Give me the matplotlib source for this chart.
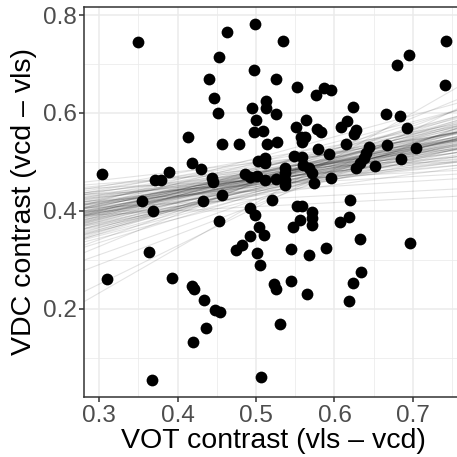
import matplotlib
matplotlib.use("Agg")
import matplotlib.pyplot as plt
from matplotlib.ticker import MultipleLocator

plt.rcParams['font.family'] = ['Liberation Sans', 'DejaVu Sans']

# speaker contrasts
vot = [0.303, 0.350, 0.463, 0.499, 0.453, 0.498, 0.440, 0.446, 0.452, 0.495,
       0.513, 0.513, 0.500, 0.497, 0.509, 0.413, 0.456, 0.478, 0.514, 0.418,
       0.430, 0.389, 0.371, 0.379, 0.444, 0.445, 0.486, 0.492, 0.501, 0.512,
       0.503, 0.512, 0.511, 0.456, 0.354, 0.433, 0.534, 0.742, 0.695, 0.680,
       0.741, 0.525, 0.552, 0.576, 0.587, 0.596, 0.526, 0.624, 0.666, 0.683,
       0.692, 0.564, 0.551, 0.578, 0.583, 0.609, 0.616, 0.627, 0.625, 0.557,
       0.563, 0.558, 0.527, 0.579, 0.615, 0.644, 0.667, 0.704, 0.593, 0.548,
       0.558, 0.560, 0.640, 0.638, 0.633, 0.627, 0.652, 0.685, 0.537, 0.537,
       0.567, 0.572, 0.574, 0.595, 0.525, 0.537, 0.537, 0.520, 0.620, 0.368,
       0.492, 0.499, 0.453, 0.504, 0.510, 0.492, 0.482, 0.475, 0.501, 0.505,
       0.363, 0.310, 0.393, 0.418, 0.421, 0.434, 0.448, 0.454, 0.436, 0.420,
       0.367, 0.506, 0.552, 0.558, 0.572, 0.571, 0.556, 0.572, 0.547, 0.618,
       0.607, 0.632, 0.697, 0.545, 0.568, 0.589, 0.523, 0.525, 0.544, 0.565,
       0.634, 0.624, 0.618, 0.530]
vdc = [0.476, 0.744, 0.765, 0.781, 0.714, 0.687, 0.669, 0.631, 0.600, 0.610,
       0.624, 0.610, 0.586, 0.561, 0.562, 0.551, 0.537, 0.537, 0.536, 0.498,
       0.486, 0.480, 0.463, 0.463, 0.467, 0.459, 0.475, 0.468, 0.472, 0.463,
       0.501, 0.508, 0.498, 0.433, 0.420, 0.420, 0.746, 0.746, 0.719, 0.697,
       0.658, 0.670, 0.652, 0.637, 0.650, 0.646, 0.597, 0.612, 0.597, 0.594,
       0.570, 0.585, 0.571, 0.568, 0.560, 0.571, 0.584, 0.565, 0.556, 0.550,
       0.550, 0.540, 0.541, 0.527, 0.537, 0.531, 0.535, 0.529, 0.516, 0.511,
       0.510, 0.493, 0.518, 0.507, 0.497, 0.488, 0.492, 0.506, 0.487, 0.477,
       0.488, 0.477, 0.457, 0.467, 0.465, 0.463, 0.452, 0.422, 0.422, 0.399,
       0.405, 0.391, 0.380, 0.367, 0.350, 0.348, 0.331, 0.320, 0.314, 0.290,
       0.316, 0.261, 0.263, 0.246, 0.241, 0.218, 0.198, 0.193, 0.161, 0.131,
       0.055, 0.060, 0.409, 0.409, 0.397, 0.386, 0.381, 0.371, 0.366, 0.387,
       0.377, 0.343, 0.334, 0.321, 0.310, 0.324, 0.250, 0.241, 0.256, 0.230,
       0.275, 0.252, 0.216, 0.169]

# posterior draws of the regression line, as predicted VDC at VOT = 0.3 and 0.7
pred_03 = [0.405, 0.372, 0.431, 0.398, 0.356, 0.418, 0.389, 0.447, 0.411, 0.365,
           0.402, 0.383, 0.426, 0.341, 0.409, 0.395, 0.438, 0.377, 0.414, 0.290,
           0.400, 0.421, 0.361, 0.393, 0.455, 0.386, 0.408, 0.349, 0.429, 0.397,
           0.413, 0.370, 0.442, 0.391, 0.404, 0.327, 0.419, 0.381, 0.435, 0.401,
           0.362, 0.416, 0.388, 0.451, 0.396, 0.374, 0.423, 0.352, 0.407, 0.410,
           0.384, 0.462, 0.399, 0.368, 0.427, 0.392, 0.415, 0.335, 0.403, 0.440,
           0.379, 0.420, 0.394, 0.358, 0.433, 0.406, 0.250, 0.412, 0.387, 0.445,
           0.375, 0.424, 0.399, 0.344, 0.417, 0.390, 0.436, 0.366, 0.410, 0.402,
           0.382, 0.428, 0.310, 0.396, 0.449, 0.371, 0.414, 0.392, 0.432, 0.359,
           0.405, 0.385, 0.422, 0.232, 0.401, 0.440, 0.378, 0.418, 0.396, 0.353]
pred_07 = [0.523, 0.548, 0.497, 0.531, 0.562, 0.512, 0.540, 0.478, 0.527, 0.555,
           0.505, 0.536, 0.519, 0.573, 0.490, 0.528, 0.545, 0.508, 0.582, 0.535,
           0.516, 0.460, 0.551, 0.525, 0.503, 0.538, 0.566, 0.514, 0.530, 0.487,
           0.543, 0.521, 0.557, 0.499, 0.533, 0.590, 0.511, 0.526, 0.470, 0.547,
           0.529, 0.506, 0.560, 0.518, 0.537, 0.494, 0.552, 0.524, 0.440, 0.541,
           0.515, 0.534, 0.569, 0.501, 0.522, 0.546, 0.483, 0.532, 0.558, 0.509,
           0.526, 0.595, 0.517, 0.539, 0.493, 0.530, 0.564, 0.520, 0.475, 0.544,
           0.511, 0.535, 0.553, 0.504, 0.527, 0.578, 0.496, 0.524, 0.542, 0.513,
           0.549, 0.485, 0.536, 0.520, 0.561, 0.507, 0.531, 0.425, 0.545, 0.518,
           0.528, 0.567, 0.500, 0.600, 0.533, 0.516, 0.539, 0.489, 0.525, 0.556]

fig = plt.figure(figsize=(4.57, 4.57), dpi=100)
ax = fig.add_axes([0.1845, 0.1306, 0.8287, 0.855])

for y3, y7 in zip(pred_03, pred_07):
    ax.axline((0.3, y3), (0.7, y7), color='black', alpha=0.11, linewidth=0.8, zorder=2)

ax.scatter(vot, vdc, s=72, color='black', zorder=3, linewidths=0)

ax.set_xlim(0.281, 0.764)
ax.set_ylim(0.0187, 0.8173)
ax.xaxis.set_minor_locator(MultipleLocator(0.05))
ax.yaxis.set_minor_locator(MultipleLocator(0.1))
ax.set_xticks([0.3, 0.4, 0.5, 0.6, 0.7])
ax.set_xticklabels(['0.3', '0.4', '0.5', '0.6', '0.7'])
ax.set_yticks([0.2, 0.4, 0.6, 0.8])
ax.set_yticklabels(['0.2', '0.4', '0.6', '0.8'])

ax.grid(True, which='major', color='#ebebeb', linewidth=1.1, zorder=0)
ax.grid(True, which='minor', color='#ebebeb', linewidth=0.55, zorder=0)
ax.set_axisbelow(True)
for sp in ax.spines.values():
    sp.set_color('#333333')
    sp.set_linewidth(1.1)
ax.tick_params(which='major', length=3.5, width=1.1, color='#333333',
               labelcolor='#4d4d4d', labelsize=17.5, pad=2)
ax.tick_params(which='minor', length=0)

ax.set_xlabel('VOT contrast (vls \u2013 vcd)', fontsize=20.5, labelpad=1)
ax.set_ylabel('VDC contrast (vcd \u2013 vls)', fontsize=20.5, labelpad=4)

fig.savefig('out.png', dpi=100)
